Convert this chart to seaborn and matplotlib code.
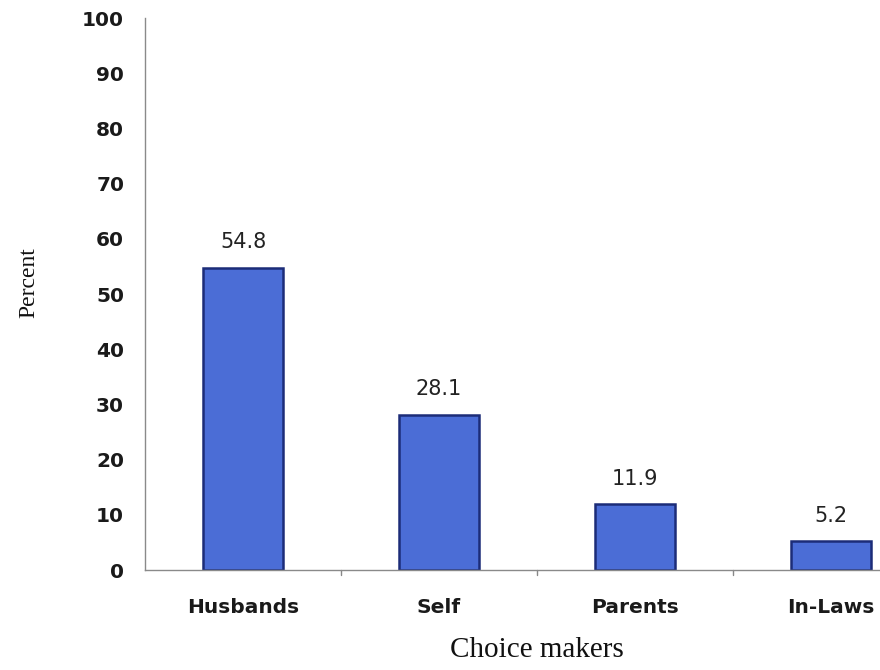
import matplotlib
matplotlib.use("Agg")
import matplotlib.pyplot as plt
import seaborn as sns
import pandas as pd

categories = ["Husbands", "Self", "Parents", "In-Laws"]
percent = [54.8, 28.1, 11.9, 5.2]
yticks = [0, 10, 20, 30, 40, 50, 60, 70, 80, 90, 100]

sns.set_style("white")
plt.rcParams["font.family"] = ["DejaVu Sans"]

df = pd.DataFrame({"Choice makers": categories, "Percent": percent})

fig = plt.figure(figsize=(8.8, 6.7), dpi=100)
ax = fig.add_axes([145 / 880, 100 / 670, 784 / 880, 552 / 670])

sns.barplot(data=df, x="Choice makers", y="Percent", ax=ax,
            color="#4b6dd6", saturation=1, width=0.41,
            edgecolor="#1c2c78", linewidth=1.8)

for i, v in enumerate(percent):
    ax.text(i, v + 2.8, f"{v}", ha="center", va="bottom",
            fontsize=15, color="#222222")

ax.set_ylim(0, 100)
ax.set_xlim(-0.5, 3.5)
ax.set_yticks(yticks)
ax.set_yticklabels([str(t) for t in yticks], fontsize=14.5, fontweight="bold",
                   color="#1a1a1a")
ax.set_xticks(range(len(categories)))
ax.set_xticklabels(categories, fontsize=14.5, fontweight="bold", color="#1a1a1a")
ax.tick_params(axis="x", length=0, pad=20)
ax.tick_params(axis="y", length=5, width=1, color="#888888", pad=10, direction="out")

# category boundary ticks along the x axis
for b in [0.5, 1.5, 2.5]:
    ax.plot([b, b], [0, -0.9], color="#888888", lw=1, clip_on=False)

for s in ["top", "right"]:
    ax.spines[s].set_visible(False)
for s in ["left", "bottom"]:
    ax.spines[s].set_color("#8a8a8a")
    ax.spines[s].set_linewidth(1)

ax.set_ylabel("Percent", family="Liberation Serif", fontsize=17, color="#111111")
ax.yaxis.set_label_coords(-0.135, (570 - 283) / 552)
ax.set_xlabel("Choice makers", family="Liberation Serif", fontsize=21, color="#111111")
ax.xaxis.set_label_coords(0.5, -0.122)
ax.xaxis.label.set_va("top")

fig.savefig("out.png", dpi=100)
